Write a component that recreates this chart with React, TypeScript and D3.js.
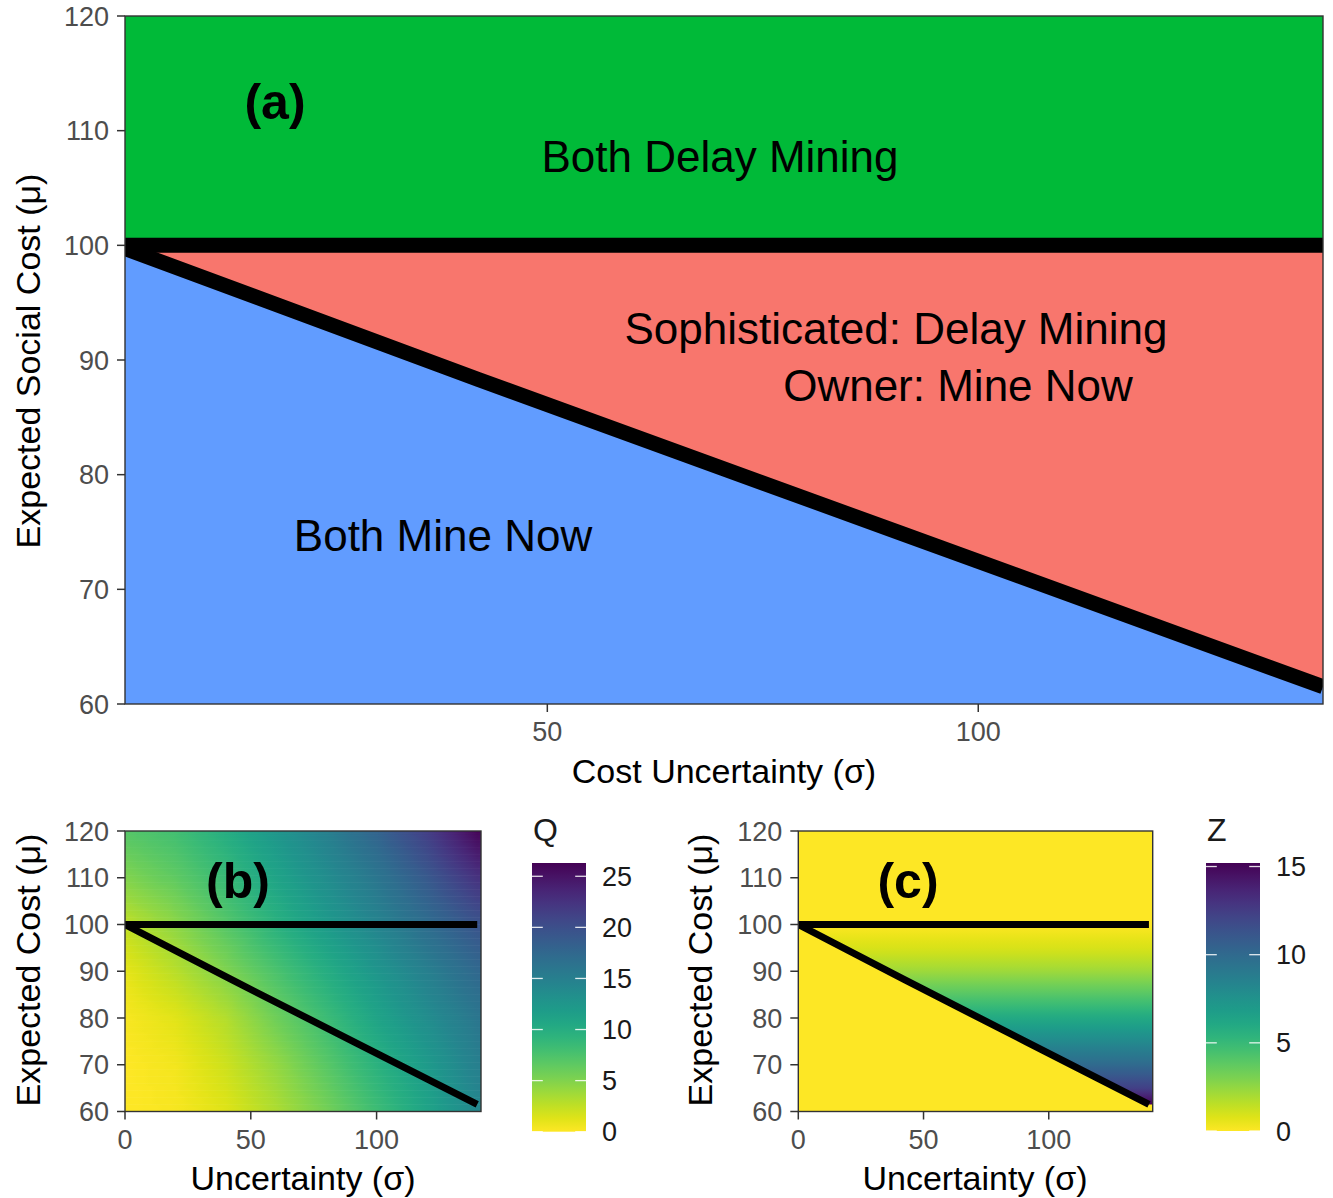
import React, { useEffect } from "react";
import * as d3 from "d3";

const FONT = '"Liberation Sans", Arial, Helvetica, sans-serif';

// ---------- data ----------
const thresholdMu = 100;
const boundarySigma = [0, 42, 91, 140];
const boundaryMu = [100, 88.3, 74.9, 61.5];

const muTicks = [60, 70, 80, 90, 100, 110, 120];
const aSigmaTicks = [50, 100];
const bcSigmaTicks = [0, 50, 100];

const labelDelay = "Both Delay Mining";
const labelSoph = "Sophisticated: Delay Mining";
const labelOwner = "Owner: Mine Now";
const labelMine = "Both Mine Now";

const colDelay = "#00BA38";
const colSoph = "#F8766D";
const colMine = "#619CFF";

// Q field (panel b) sampled on a grid
const qSigma = [0, 20, 40, 60, 80, 100, 120, 140];
const qMu = [60, 70, 80, 90, 100, 110, 120];
const qAt60 = [0, 0.3, 1.3, 3.2, 5.5, 8.2, 11, 14];
const qAt70 = [0, 0.5, 2, 4.2, 6.8, 9.5, 12, 15];
const qAt80 = [0.3, 1.2, 3, 5.8, 8.3, 11, 13.5, 16];
const qAt90 = [1, 2.8, 5, 7.5, 10, 12.5, 15, 17.5];
const qAt100 = [2.5, 4.5, 7, 9.5, 12, 14.5, 17, 19.5];
const qAt110 = [5, 6.5, 8.5, 11, 13.5, 16, 19, 22.5];
const qAt120 = [7, 8, 10, 12.5, 15, 18, 21.5, 26];
const qMax = 26.3;
const qTicks = [0, 5, 10, 15, 20, 25];

// Z (panel c) as a function of mu inside the middle region
const zMu = [100, 95, 90, 85, 80, 75, 70, 65, 61.5];
const zVal = [0, 0.9, 2.2, 4, 6, 8, 10, 12.3, 15.2];
const zMax = 15.2;
const zTicks = [0, 5, 10, 15];

// ---------- helpers ----------
const qGrid = [qAt60, qAt70, qAt80, qAt90, qAt100, qAt110, qAt120];
function qAt(s: number, m: number) {
  const sc = Math.max(qSigma[0], Math.min(qSigma[qSigma.length - 1], s));
  const mc = Math.max(qMu[0], Math.min(qMu[qMu.length - 1], m));
  let i = d3.bisectRight(qSigma, sc) - 1;
  i = Math.max(0, Math.min(qSigma.length - 2, i));
  let j = d3.bisectRight(qMu, mc) - 1;
  j = Math.max(0, Math.min(qMu.length - 2, j));
  const tx = (sc - qSigma[i]) / (qSigma[i + 1] - qSigma[i]);
  const ty = (mc - qMu[j]) / (qMu[j + 1] - qMu[j]);
  const a = qGrid[j][i] * (1 - tx) + qGrid[j][i + 1] * tx;
  const b = qGrid[j + 1][i] * (1 - tx) + qGrid[j + 1][i + 1] * tx;
  return a * (1 - ty) + b * ty;
}
const qColor = (v: number) => d3.interpolateViridis(1 - Math.max(0, Math.min(1, v / qMax)));
const zColor = (v: number) => d3.interpolateViridis(1 - Math.max(0, Math.min(1, v / zMax)));
const zAtMu = d3.scaleLinear().domain(zMu.slice().reverse()).range(zVal.slice().reverse()).clamp(true);

const boundaryPts: [number, number][] = boundarySigma.map((s, i) => [s, boundaryMu[i]]);

const TICK_COL = "#4D4D4D";
const AXIS_COL = "#333333";

function YAxis({ y, x0, size = 27 }: any) {
  return (
    <g>
      {muTicks.map((t) => (
        <g key={t}>
          <line x1={x0 - 8} x2={x0} y1={y(t)} y2={y(t)} stroke={AXIS_COL} strokeWidth={1.5} />
          <text x={x0 - 16} y={y(t) + 9.5} textAnchor="end" fontSize={size} fill={TICK_COL} fontFamily={FONT}>
            {t}
          </text>
        </g>
      ))}
    </g>
  );
}

function XAxis({ x, y0, ticks, size = 27 }: any) {
  return (
    <g>
      {ticks.map((t: number) => (
        <g key={t}>
          <line x1={x(t)} x2={x(t)} y1={y0} y2={y0 + 8} stroke={AXIS_COL} strokeWidth={1.5} />
          <text x={x(t)} y={y0 + 37} textAnchor="middle" fontSize={size} fill={TICK_COL} fontFamily={FONT}>
            {t}
          </text>
        </g>
      ))}
    </g>
  );
}

function ColorBar({ id, x, top, bottom, max, ticks, color, title }: any) {
  const w = 54;
  const s = d3.scaleLinear().domain([0, max]).range([bottom, top]);
  const stops = d3.range(0, 1.0001, 0.05);
  return (
    <g>
      <defs>
        <linearGradient id={id} x1="0" y1="1" x2="0" y2="0">
          {stops.map((o) => (
            <stop key={o} offset={o} stopColor={color(o * max)} />
          ))}
        </linearGradient>
      </defs>
      <text x={x + 1} y={top - 22} fontSize={32} fill="#1a1a1a" fontFamily={FONT}>
        {title}
      </text>
      <rect x={x} y={top} width={w} height={bottom - top} fill={`url(#${id})`} />
      {ticks.map((t: number) => (
        <g key={t}>
          <line x1={x} x2={x + 10.8} y1={s(t)} y2={s(t)} stroke="white" strokeOpacity={0.85} strokeWidth={1.3} />
          <line x1={x + w - 10.8} x2={x + w} y1={s(t)} y2={s(t)} stroke="white" strokeOpacity={0.85} strokeWidth={1.3} />
          <text x={x + w + 16} y={s(t) + 9.5} fontSize={27} fill="#1a1a1a" fontFamily={FONT}>
            {t}
          </text>
        </g>
      ))}
    </g>
  );
}

export default function App() {
  useEffect(() => {
    document.body.style.margin = "0";
  }, []);

  // ---- Panel a ----
  const ax = d3.scaleLinear().domain([1, 140]).range([125, 1323]);
  const ay = d3.scaleLinear().domain([60, 120]).range([704, 16]);
  const aLine = d3.line<[number, number]>().x((d) => ax(d[0])).y((d) => ay(d[1]));
  const aSoph = d3
    .area<[number, number]>()
    .x((d) => ax(d[0]))
    .y0((d) => ay(d[1]))
    .y1(() => ay(thresholdMu));
  const aMine = d3
    .area<[number, number]>()
    .x((d) => ax(d[0]))
    .y0(() => ay(60))
    .y1((d) => ay(d[1]));
  const hLinePts: [number, number][] = [
    [0, thresholdMu],
    [140, thresholdMu],
  ];

  // ---- Panel b ----
  const bx = d3.scaleLinear().domain([0, 141.5]).range([125, 481]);
  const by = d3.scaleLinear().domain([60, 120]).range([1111.5, 831]);
  const bLine = d3.line<[number, number]>().x((d) => bx(d[0])).y((d) => by(d[1]));
  const rowStep = 0.5;
  const rows = d3.range(60, 120, rowStep);
  const colStops = d3.range(0, 141.5 + 0.001, 2.5);

  // ---- Panel c ----
  const cx = d3.scaleLinear().domain([0, 141.5]).range([798.3, 1152.7]);
  const cy = by;
  const cLine = d3.line<[number, number]>().x((d) => cx(d[0])).y((d) => cy(d[1]));
  const triPts: [number, number][] = [
    ...boundaryPts,
    [141.5, boundaryMu[boundaryMu.length - 1]],
    [141.5, thresholdMu],
    [0, thresholdMu],
  ];
  const triPath = "M" + triPts.map((p) => `${cx(p[0])},${cy(p[1])}`).join("L") + "Z";
  const zTop = zMu[0];
  const zBot = zMu[zMu.length - 1];
  const zStopMus = d3.range(zTop, zBot - 0.001, -1);

  return (
    <svg
      width={1333}
      height={1198}
      style={{ position: "absolute", left: 0, top: 0, display: "block", background: "white" }}
      fontFamily={FONT}
    >
      <defs>
        <clipPath id="clipA">
          <rect x={ax(1)} y={ay(120)} width={ax(140) - ax(1)} height={ay(60) - ay(120)} />
        </clipPath>
        <clipPath id="clipB">
          <rect x={bx(0)} y={by(120)} width={bx(141.5) - bx(0)} height={by(60) - by(120)} />
        </clipPath>
        <clipPath id="clipC">
          <rect x={cx(0)} y={cy(120)} width={cx(141.5) - cx(0)} height={cy(60) - cy(120)} />
        </clipPath>
        {rows.map((m, i) => (
          <linearGradient key={i} id={`qrow${i}`} gradientUnits="userSpaceOnUse" x1={bx(0)} x2={bx(141.5)} y1={0} y2={0}>
            {colStops.map((s) => (
              <stop key={s} offset={s / 141.5} stopColor={qColor(qAt(s, m + rowStep / 2))} />
            ))}
          </linearGradient>
        ))}
        <linearGradient id="zgrad" gradientUnits="userSpaceOnUse" x1={0} x2={0} y1={cy(zTop)} y2={cy(zBot)}>
          {zStopMus.map((m, i) => (
            <stop key={i} offset={(zTop - m) / (zTop - zBot)} stopColor={zColor(zAtMu(m))} />
          ))}
          <stop offset={1} stopColor={zColor(zAtMu(zBot))} />
        </linearGradient>
      </defs>

      {/* ===== Panel a ===== */}
      <g clipPath="url(#clipA)">
        <rect x={ax(1)} y={ay(120)} width={ax(140) - ax(1)} height={ay(thresholdMu) - ay(120)} fill={colDelay} />
        <path d={aSoph(boundaryPts) || ""} fill={colSoph} />
        <path d={aMine(boundaryPts) || ""} fill={colMine} />
        <path d={aLine(hLinePts) || ""} stroke="black" strokeWidth={15} fill="none" />
        <path d={aLine(boundaryPts) || ""} stroke="black" strokeWidth={15} fill="none" />
      </g>
      <rect x={ax(1)} y={ay(120)} width={ax(140) - ax(1)} height={ay(60) - ay(120)} fill="none" stroke={AXIS_COL} strokeWidth={1.4} />
      <YAxis y={ay} x0={ax(1)} />
      <XAxis x={ax} y0={ay(60)} ticks={aSigmaTicks} />
      <text x={275} y={119} textAnchor="middle" fontSize={50} fontWeight="bold" fill="black">(a)</text>
      <text x={720} y={172} textAnchor="middle" fontSize={44} fill="black">{labelDelay}</text>
      <text x={896} y={344} textAnchor="middle" fontSize={44} fill="black">{labelSoph}</text>
      <text x={958} y={401} textAnchor="middle" fontSize={44} fill="black">{labelOwner}</text>
      <text x={443} y={551} textAnchor="middle" fontSize={44} fill="black">{labelMine}</text>
      <text x={724} y={783} textAnchor="middle" fontSize={34} fill="black">Cost Uncertainty (σ)</text>
      <text transform="translate(40,361) rotate(-90)" textAnchor="middle" fontSize={34} fill="black">
        Expected Social Cost (μ)
      </text>

      {/* ===== Panel b ===== */}
      <g clipPath="url(#clipB)">
        {rows.map((m, i) => (
          <rect
            key={i}
            x={bx(0)}
            y={by(m + rowStep) - 0.3}
            width={bx(141.5) - bx(0)}
            height={by(m) - by(m + rowStep) + 0.6}
            fill={`url(#qrow${i})`}
          />
        ))}
        <path d={bLine(hLinePts) || ""} stroke="black" strokeWidth={7} fill="none" />
        <path d={bLine(boundaryPts) || ""} stroke="black" strokeWidth={7} fill="none" />
      </g>
      <rect x={bx(0)} y={by(120)} width={bx(141.5) - bx(0)} height={by(60) - by(120)} fill="none" stroke={AXIS_COL} strokeWidth={1.4} />
      <YAxis y={by} x0={bx(0)} />
      <XAxis x={bx} y0={by(60)} ticks={bcSigmaTicks} />
      <text x={238} y={898} textAnchor="middle" fontSize={50} fontWeight="bold" fill="black">(b)</text>
      <text x={303} y={1190} textAnchor="middle" fontSize={34} fill="black">Uncertainty (σ)</text>
      <text transform="translate(40,970) rotate(-90)" textAnchor="middle" fontSize={34} fill="black">
        Expected Cost (μ)
      </text>
      <ColorBar id="qbar" x={532} top={863} bottom={1131.7} max={qMax} ticks={qTicks} color={qColor} title="Q" />

      {/* ===== Panel c ===== */}
      <g clipPath="url(#clipC)">
        <rect x={cx(0)} y={cy(120)} width={cx(141.5) - cx(0)} height={cy(60) - cy(120)} fill={zColor(0)} />
        <path d={triPath} fill="url(#zgrad)" />
        <path d={cLine(hLinePts) || ""} stroke="black" strokeWidth={7} fill="none" />
        <path d={cLine(boundaryPts) || ""} stroke="black" strokeWidth={7} fill="none" />
      </g>
      <rect x={cx(0)} y={cy(120)} width={cx(141.5) - cx(0)} height={cy(60) - cy(120)} fill="none" stroke={AXIS_COL} strokeWidth={1.4} />
      <YAxis y={cy} x0={cx(0)} />
      <XAxis x={cx} y0={cy(60)} ticks={bcSigmaTicks} />
      <text x={908} y={898} textAnchor="middle" fontSize={50} fontWeight="bold" fill="black">(c)</text>
      <text x={975} y={1190} textAnchor="middle" fontSize={34} fill="black">Uncertainty (σ)</text>
      <text transform="translate(712,970) rotate(-90)" textAnchor="middle" fontSize={34} fill="black">
        Expected Cost (μ)
      </text>
      <ColorBar id="zbar" x={1206} top={863} bottom={1131} max={zMax} ticks={zTicks} color={zColor} title="Z" />
    </svg>
  );
}
